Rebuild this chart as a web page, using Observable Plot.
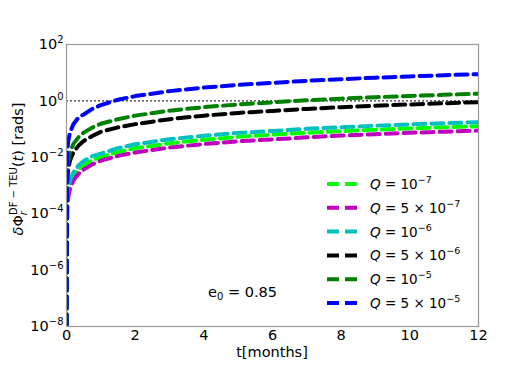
<!DOCTYPE html>
<html>
<head>
<meta charset="utf-8">
<script src="https://cdn.jsdelivr.net/npm/d3@7"></script>
<script src="https://cdn.jsdelivr.net/npm/@observablehq/plot@0.6"></script>
<style>
  html, body { margin: 0; padding: 0; background: #fff; }
  svg { display: block; }
</style>
</head>
<body>
<div id="chart"></div>
<script>
// time in months
const tMonths = [0, 0.02, 0.05, 0.1, 0.2, 0.35, 0.5, 0.75, 1, 1.5, 2, 3, 4, 5, 6, 7, 8, 9, 10, 11, 12];

// dephasing [rads]
const qLime    = [1e-8, 0.00021, 0.00053, 0.00106, 0.0021, 0.0037, 0.0053, 0.0079, 0.0102, 0.0155, 0.0208, 0.0315, 0.042, 0.053, 0.064, 0.074, 0.085, 0.095, 0.106, 0.116, 0.127];
const qMagenta = [1e-8, 0.00015, 0.00037, 0.00074, 0.0015, 0.0026, 0.0037, 0.0056, 0.0076, 0.0112, 0.0148, 0.0222, 0.0296, 0.037, 0.043, 0.051, 0.059, 0.066, 0.074, 0.081, 0.089];
const qCyan    = [1e-8, 0.0003, 0.00074, 0.00147, 0.0029, 0.0051, 0.0074, 0.011, 0.0135, 0.021, 0.029, 0.044, 0.058, 0.073, 0.086, 0.102, 0.117, 0.132, 0.147, 0.162, 0.176];
const qBlack   = [1e-8, 0.0015, 0.0038, 0.0075, 0.015, 0.026, 0.038, 0.057, 0.08, 0.115, 0.15, 0.225, 0.30, 0.375, 0.44, 0.52, 0.60, 0.675, 0.75, 0.825, 0.90];
const qGreen   = [1e-8, 0.003, 0.0075, 0.015, 0.03, 0.052, 0.075, 0.113, 0.155, 0.225, 0.30, 0.45, 0.60, 0.75, 0.89, 1.05, 1.20, 1.35, 1.50, 1.65, 1.80];
const qBlue    = [1e-8, 0.015, 0.037, 0.074, 0.148, 0.26, 0.33, 0.52, 0.71, 1.10, 1.48, 2.22, 2.96, 3.7, 4.35, 5.15, 5.9, 6.65, 7.4, 8.15, 8.9];

const seriesNames = ["Q=1e-7", "Q=5e-7", "Q=1e-6", "Q=5e-6", "Q=1e-5", "Q=5e-5"];
const seriesValues = [qLime, qMagenta, qCyan, qBlack, qGreen, qBlue];
const seriesColors = ["#00ff00", "#bf00bf", "#00bfbf", "#000000", "#008000", "#0000ff"];
const legendMantissa = ["", "5", "", "5", "", "5"];
const legendExponent = ["−7", "−7", "−6", "−6", "−5", "−5"];

const yTicks = [1e-8, 1e-6, 1e-4, 1e-2, 1e0, 1e2];
const yTickExp = ["−8", "−6", "−4", "−2", "0", "2"];
const xTicks = [0, 2, 4, 6, 8, 10, 12];

const rows = [];
seriesNames.forEach((s, i) => {
  tMonths.forEach((t, j) => rows.push({ s, t, v: seriesValues[i][j] }));
});

const FONT = "DejaVu Sans, sans-serif";

const chart = Plot.plot({
  width: 532,
  height: 366,
  marginLeft: 66,
  marginRight: 54,
  marginTop: 44,
  marginBottom: 40,
  style: { fontFamily: FONT, fontSize: "14.5px", background: "#fff", color: "#000" },
  x: { domain: [0, 12], ticks: xTicks, tickSize: 0, tickPadding: 3, label: null },
  y: { type: "log", domain: [1e-8, 1e2], ticks: yTicks, tickSize: 0, tickPadding: 3, label: null,
       tickFormat: d => "10^" + yTickExp[yTicks.indexOf(d)] },
  color: { domain: seriesNames, range: seriesColors },
  marks: [
    Plot.ruleY([1], { stroke: "#000", strokeWidth: 1, strokeDasharray: "2,2" }),
    Plot.line(rows, { x: "t", y: "v", z: "s", stroke: "s", strokeWidth: 4, strokeDasharray: "12,6", clip: true }),
    Plot.frame({ stroke: "#999", strokeWidth: 1.2 })
  ]
});

document.getElementById("chart").appendChild(chart);

const svg = d3.select(chart);

// superscript tick labels
svg.selectAll('g[aria-label="y-axis tick label"] text').each(function () {
  const txt = this.textContent;
  const parts = txt.split("^");
  const sel = d3.select(this);
  sel.text(null);
  sel.append("tspan").text(parts[0]);
  sel.append("tspan").attr("dy", "-6").attr("font-size", "10px").text(parts[1]);
});

// x axis label
svg.append("text")
  .attr("x", 272).attr("y", 357)
  .attr("text-anchor", "middle")
  .attr("font-family", FONT).attr("font-size", "14.5px")
  .text("t[months]");

// y axis label
const yl = svg.append("text")
  .attr("transform", "translate(23,169) rotate(-90)")
  .attr("text-anchor", "middle")
  .attr("font-family", FONT).attr("font-size", "14.5px");
yl.append("tspan").attr("font-style", "italic").text("δ");
yl.append("tspan").text("Φ");
yl.append("tspan").attr("font-style", "italic").attr("font-size", "10px").attr("dy", "4").text("r");
yl.append("tspan").attr("font-size", "10px").attr("dx", "-4").attr("dy", "-10").text("DF − TEU");
yl.append("tspan").attr("dy", "6").text("(");
yl.append("tspan").attr("font-style", "italic").text("t");
yl.append("tspan").text(") [rads]");

// e0 annotation
const ann = svg.append("text")
  .attr("x", 208).attr("y", 297)
  .attr("text-anchor", "start")
  .attr("font-family", FONT).attr("font-size", "14.5px");
ann.append("tspan").text("e");
ann.append("tspan").attr("font-size", "10px").attr("dy", "3").text("0");
ann.append("tspan").attr("dy", "-3").text(" = 0.85");

// legend
const lg = svg.append("g").attr("font-family", FONT).attr("font-size", "13.5px").attr("text-anchor", "start");
seriesNames.forEach((s, i) => {
  const y = 184 + i * 23.8;
  lg.append("line")
    .attr("x1", 327).attr("x2", 358).attr("y1", y).attr("y2", y)
    .attr("stroke", seriesColors[i]).attr("stroke-width", 4)
    .attr("stroke-dasharray", "12,6");
  const tx = lg.append("text").attr("x", 370).attr("y", y + 5).attr("text-anchor", "start");
  tx.append("tspan").attr("font-style", "italic").text("Q");
  tx.append("tspan").text(" = " + (legendMantissa[i] ? legendMantissa[i] + " × " : "") + "10");
  tx.append("tspan").attr("font-size", "9.5px").attr("dy", "-6").text(legendExponent[i]);
});
</script>
</body>
</html>
